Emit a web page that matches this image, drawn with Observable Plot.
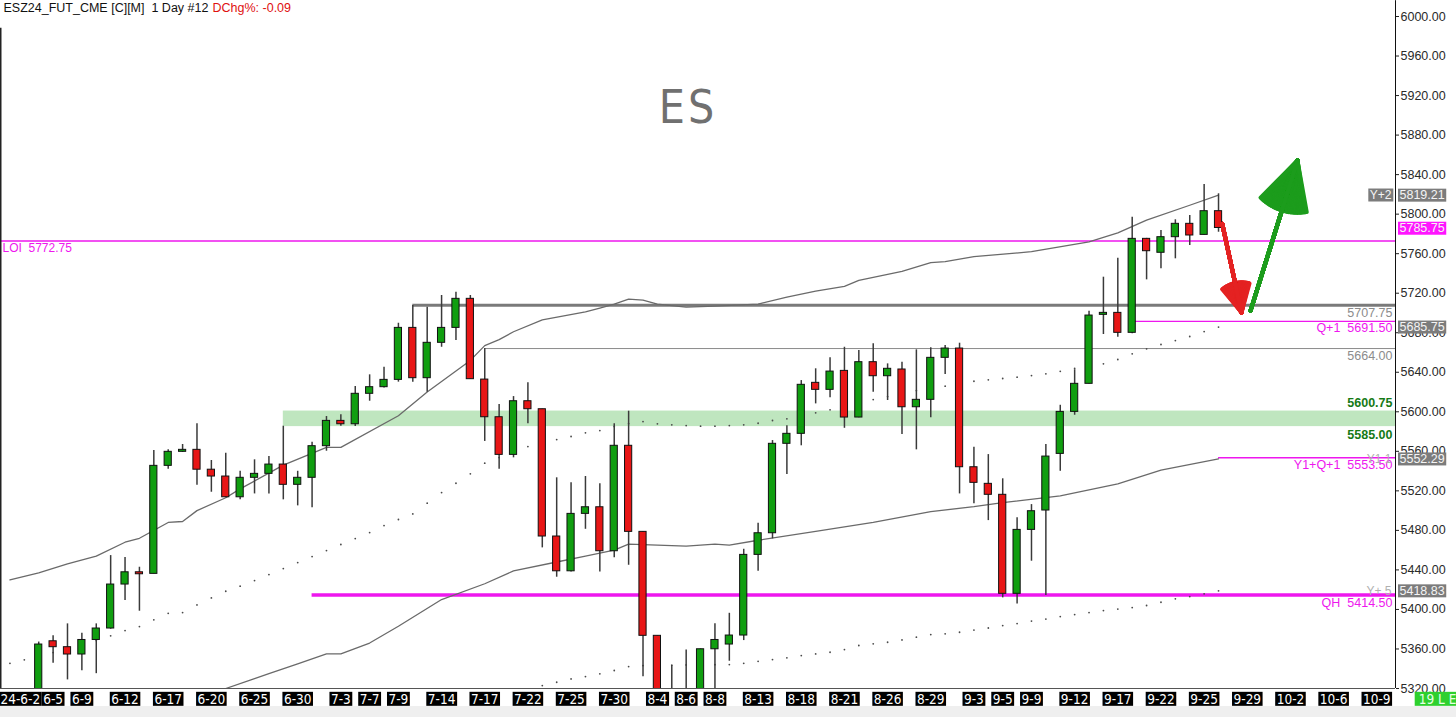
<!DOCTYPE html>
<html><head><meta charset="utf-8">
<script src="https://cdn.jsdelivr.net/npm/d3@7"></script>
<script src="https://cdn.jsdelivr.net/npm/@observablehq/plot@0.6"></script>
<style>
html,body{margin:0;padding:0;background:#fff;width:1456px;height:717px;overflow:hidden}
#chart svg{display:block}
#scroll{height:11px;background:#efefef;width:1456px}
</style></head><body>
<div id="chart"></div><div id="scroll"></div>
<script>
// ---- candles (bar index starts at 1) ----
const firstBar = 1;
const opens = [5300,5367.8,5361.8,5354.4,5369.1,5380.7,5425.2,5437.6,5436,5545.3,
5559.5,5561.5,5541.4,5534.5,5513.5,5533.2,5537.2,5546.6,5526.1,5533.2,
5565.2,5590.8,5587.4,5618.2,5624.9,5632.3,5684.9,5634,5669.8,5684.9,
5714.3,5632.6,5594.5,5556.4,5610.7,5602.6,5473.8,5438.6,5496.7,5503.4,
5458.9,5565.6,5478.5,5373.3,5245,5290,5255,5359.7,5364.5,5373.6,
5455.2,5477.1,5567.6,5577.7,5629.3,5622.2,5641.4,5594.2,5650.2,5636,
5642.8,5604.6,5612.1,5654.6,5664,5543.9,5527.1,5516,5415.8,5480.5,
5500.1,5557.4,5599.9,5628.3,5698.1,5700.1,5679.9,5775,5760.9,5776.7,
5790.2,5779,5803];
const highs = [5367,5373.3,5385.4,5375.9,5385.4,5454.5,5452.5,5442.7,5560.8,5561.5,
5566.9,5587.8,5550.7,5558.1,5539.8,5551.4,5554.7,5585.4,5539.8,5569.2,
5595.2,5596.9,5625.6,5637.4,5645.1,5689.6,5707.5,5705.8,5717.7,5721,
5717.7,5664,5607.3,5615.4,5629.3,5602.6,5533.2,5528.1,5534.5,5527.1,
5587.8,5600.6,5478.5,5373.3,5343.2,5359,5360,5385.6,5396.1,5460.9,
5487.2,5570.9,5585.8,5631.6,5643.5,5654.6,5665.3,5662,5668.8,5648.5,
5650.2,5662.7,5664.9,5667,5669.4,5564.1,5556.7,5532.2,5492.7,5506.1,
5566.9,5606.6,5642.5,5701.8,5736.2,5755.4,5796.9,5775.5,5783.4,5794.3,
5798.6,5830,5820.6];
const lows = [5295,5345.5,5328.7,5338,5335,5380,5409,5398.2,5436,5541.9,
5559,5525.7,5518.6,5513,5510.9,5516.9,5516.9,5510.9,5504.8,5502.8,
5560.1,5585.4,5585,5610.7,5624,5630,5629.9,5619.8,5665.3,5672.1,
5633,5570,5541.9,5553.4,5587.8,5462.3,5432.6,5438,5481.1,5438,
5452.2,5444.7,5332,5200,5225,5240,5250,5316,5347.6,5368.5,
5438.6,5471.4,5536.5,5565.6,5608,5614.1,5583.3,5594,5619.8,5611.4,
5577,5561.5,5593.9,5637.7,5516.9,5506.9,5489.9,5411.7,5405.6,5448.8,
5414,5539.8,5596.5,5628,5678.2,5675.5,5679,5733.5,5744.7,5754.8,
5768.3,5779,5781.7];
const closes = [5364.5,5361.8,5354.4,5369.1,5380.7,5425.2,5437.6,5435.6,5545.3,5559.5,
5561.5,5541.4,5534.5,5513.5,5533.2,5537.2,5546.6,5526.1,5533.2,5565.2,
5590.8,5587.4,5618.2,5624.9,5632.3,5684.9,5634,5669.8,5684.9,5714.3,
5633,5594.5,5556.4,5610.7,5602.6,5473.8,5438.6,5496.7,5503.4,5458.9,
5565.6,5478.5,5373.3,5240,5290,5255,5359.7,5369.1,5373.6,5455.2,
5477.1,5567.6,5577.7,5627.3,5622.2,5640.7,5594.2,5650.2,5636,5643.5,
5604.6,5612.1,5654.6,5664,5543.9,5528.1,5516,5415.8,5480.5,5499.4,
5554.7,5599.9,5628.3,5697.4,5700.1,5679.9,5775,5762.5,5776.7,5790.2,
5778.4,5803,5786];

// ---- moving averages (bar index, value) ----
const ma1Idx = [-1,1,3,5,7,8,10,11,12,14,15,18,21,22,26,28,31,32,33,34,36,39,40,41,42,43,44,46,48,51,53,55,57,58,61,63,64,66,70,74,76,78,81,83];
const ma1Val = [5430,5437,5446,5454,5468,5472,5488,5489,5500,5513,5522,5546,5564,5564,5596,5620,5652,5667,5673,5681,5693,5701,5705,5709,5714,5713,5709,5706,5707,5709,5716,5722,5727,5733,5742,5751,5752,5757,5762,5772,5781,5794,5809,5819.21];
const ma2Idx = [12,14,16,17,19,21,22,24,26,29,32,34,37,39,41,42,44,46,48,49,51,55,59,63,66,68,72,76,79,83];
const ma2Val = [5310,5320,5330,5335,5345,5355,5355,5366,5383,5410,5426,5439,5448,5454,5460,5466,5465,5464,5466,5465,5470,5479,5488,5499,5504,5508,5515,5527,5541,5552.29];

// ---- dotted studies ----
const dotAStart = -1;
const dotAVals = [5345.5,5349.0,5352.3,5356.4,5360.4,5364.5,5368.5,5373.3,5378.6,5382.7,
5389.5,5396.1,5396.8,5404.6,5411.7,5418.4,5423.5,5429.2,5435.3,5441.4,
5447.4,5453.5,5459.6,5465.7,5471.7,5477.8,5484.9,5491.0,5496.7,5507.5,
5518.3,5527.7,5537.2,5548.0,5553.7,5559.8,5564.8,5568.9,5571.9,5575.0,
5578.7,5581.0,5585.1,5588.1,5590.1,5587.8,5586.8,5586.1,5585.4,5585.4,
5586.1,5586.8,5588.4,5591.2,5592.9,5596.2,5599.0,5602.0,5605.4,5608.9,
5612.4,5615.4,5618.5,5621.5,5623.5,5625.9,5628.6,5630.9,5632.4,5633.7,
5635.0,5636.7,5638.4,5641.0,5643.8,5645.8,5648.5,5652.9,5658.7,5663.7,
5668.1,5672.1,5676.2,5681.2,5685.75];
const dotBStart = 36;
const dotBVals = [5323,5326.3,5329.7,5332.1,5334.8,5338.2,5342.2,5343.2,5343.5,5343.7,
5343.9,5344.0,5344.1,5344.2,5345.5,5347.5,5349.3,5351.0,5353.3,5355.0,
5356.7,5359.4,5363.5,5365.2,5366.8,5369.2,5371.9,5374.6,5375.3,5376.9,
5379.1,5381.2,5383.7,5385.7,5388.2,5390.3,5392.8,5394.8,5396.8,5398.9,
5400.4,5401.9,5404.0,5407.3,5410.7,5413.0,5415.8,5418.83];

// ---- levels ----
const levelVals  = [5772.75, 5707.75, 5691.50, 5664.00, 5600.75, 5585.00, 5553.50, 5414.50];
const levelStart = [-1.656, 27, 77, 32, 18, 18, 83, 20];
const levelNames = ["LOI", "", "Q+1", "", "", "", "Y1+Q+1", "QH"];

// ---- right axis ----
const yTicks = d3.range(5320, 6001, 40);
const badgeVals = [5819.21, 5785.75, 5685.75, 5552.29, 5418.83];
const badgeTags = ["Y+2", "", "", "Y1 1", "Y+ 5"];

// ---- date axis ----
const dateIdx = [0,2,4,7,10,13,16,19,22,24,26,29,32,35,38,41,44,46,48,51,54,57,60,63,66,68,70,73,76,79,82,85,88,91,94];
const dateLabels = ["24-6-2","6-5","6-9","6-12","6-17","6-20","6-25","6-30","7-3","7-7","7-9","7-14","7-17","7-22","7-25","7-30","8-4","8-6","8-8","8-13","8-18","8-21","8-26","8-29","9-3","9-5","9-9","9-12","9-17","9-22","9-25","9-29","10-2","10-6","10-9"];

// ---- annotations (arrows: bar index / price) ----
const arrowFrom = [[83.26, 5790.2], [85.23, 5702.5]];
const arrowTo   = [[84.6, 5700.4], [88.49, 5854.3]];

const titleMain = "ESZ24_FUT_CME [C][M]  1 Day #12";
const titleChg = "DChg%: -0.09";
const symbolName = "ES";
const statusText = "19 L E";

// ================= build =================
const xMin = -1.656, xMax = 95.30, yMin = 5320, yMax = 6000;
const MAG = "#ee17ee", GRN = "#109e10", RED = "#e81616", GRAYLINE = "#7a7a7a";
const NARROW = "'Liberation Sans Narrow','DejaVu Sans Condensed','Liberation Sans',sans-serif";

const bars = opens.map((o, k) => ({i: firstBar + k, o, h: highs[k], l: lows[k], c: closes[k]}));
const ma1 = ma1Idx.map((i, k) => ({i, v: ma1Val[k]}));
const ma2 = ma2Idx.map((i, k) => ({i, v: ma2Val[k]}));
const dotsA = dotAVals.map((v, k) => ({i: dotAStart + k, v}));
const dotsB = dotBVals.map((v, k) => ({i: dotBStart + k, v}));
const lv = levelVals.map((v, k) => ({v, s: levelStart[k], e: xMax, name: levelNames[k]}));
const dates = dateIdx.map((i, k) => ({i, t: dateLabels[k]}));
const badges = badgeVals.map((v, k) => ({v, tag: badgeTags[k]}));
const arrows = arrowFrom.map((f, k) => ({x1: f[0], y1: f[1], x2: arrowTo[k][0], y2: arrowTo[k][1]}));
const fmt = v => v.toFixed(2);
const sp = "\u00a0\u00a0";

function levelLabel(k, opts) {
  const d = lv[k];
  const txt = d.name ? d.name + sp + fmt(d.v) : fmt(d.v);
  return Plot.text([d], {y: "v", text: () => txt, frameAnchor: "right", lineAnchor: "middle", dx: -3, textAnchor: "end", fontSize: 12.5, ...opts});
}

const arrowLayers = [];
const headAngles = d3.range(4, 56, 3);
[[0, "#e42222"], [1, "#1c9c1c"]].forEach(([k, col]) => {
  headAngles.forEach(a => {
    arrowLayers.push(Plot.arrow([arrows[k]], {x1: "x1", y1: "y1", x2: "x2", y2: "y2", stroke: col, strokeWidth: 4, headLength: 28, headAngle: a}));
  });
});

const plot = Plot.plot({
  width: 1456, height: 706,
  marginTop: 16, marginBottom: 18, marginLeft: 0, marginRight: 61,
  x: {domain: [xMin, xMax], axis: null},
  y: {domain: [yMin, yMax], axis: null},
  color: {type: "identity"},
  style: {fontFamily: "'Liberation Sans', Arial, sans-serif", fontSize: "12px", background: "#fff", overflow: "visible"},
  marks: [
    // green zone
    Plot.rect([{s: lv[4].s, e: xMax, a: lv[5].v, b: lv[4].v}], {x1: "s", x2: "e", y1: "a", y2: "b", fill: "#bfe6bf"}),
    // level lines
    Plot.ruleY([lv[0]], {y: "v", x1: "s", x2: "e", stroke: MAG, strokeWidth: 1.5}),
    Plot.ruleY([lv[1]], {y: "v", x1: "s", x2: "e", stroke: GRAYLINE, strokeWidth: 3}),
    Plot.ruleY([lv[2]], {y: "v", x1: "s", x2: "e", stroke: MAG, strokeWidth: 1.4}),
    Plot.ruleY([lv[3]], {y: "v", x1: "s", x2: "e", stroke: "#8a8a8a", strokeWidth: 1}),
    Plot.ruleY([lv[6]], {y: "v", x1: "s", x2: "e", stroke: MAG, strokeWidth: 1.4}),
    Plot.ruleY([lv[7]], {y: "v", x1: "s", x2: "e", stroke: MAG, strokeWidth: 3.5}),
    // moving averages
    Plot.line(ma1, {x: "i", y: "v", stroke: "#6a6a6a", strokeWidth: 1.3, clip: true}),
    Plot.line(ma2, {x: "i", y: "v", stroke: "#6a6a6a", strokeWidth: 1.3, clip: true}),
    // dotted studies
    Plot.dot(dotsA, {x: "i", y: "v", r: 0.9, fill: "#4a4a4a", clip: true}),
    Plot.dot(dotsB, {x: "i", y: "v", r: 0.9, fill: "#4a4a4a", clip: true}),
    // candles
    Plot.ruleX(bars, {x: "i", y1: "l", y2: "h", stroke: "#3a3a3a", strokeWidth: 1.5, clip: true}),
    Plot.rect(bars, {x1: d => d.i - 0.5, x2: d => d.i + 0.5, y1: "o", y2: "c", insetLeft: 3.6, insetRight: 3.6,
      fill: d => d.c >= d.o ? GRN : RED, stroke: "#111", strokeWidth: 1, clip: true}),
    // level labels
    Plot.text([lv[0]], {x: "s", y: "v", text: d => d.name + sp + fmt(d.v), dx: 2, dy: 7, textAnchor: "start", fill: MAG, fontSize: 12}),
    levelLabel(1, {dy: 8, fill: "#8c8c8c"}),
    levelLabel(2, {dy: 7, fill: MAG}),
    levelLabel(3, {dy: 7, fill: "#8c8c8c"}),
    levelLabel(4, {dy: -8, fill: "#167a16", fontWeight: "bold"}),
    levelLabel(5, {dy: 8, fill: "#167a16", fontWeight: "bold"}),
    levelLabel(6, {dy: 7, fill: MAG}),
    levelLabel(7, {dy: 7.5, fill: MAG}),
    // frame lines
    Plot.ruleY([yMin], {stroke: "#555", strokeWidth: 1}),
    Plot.ruleX([xMin], {y1: yMin, y2: 5988, stroke: "#222", strokeWidth: 2}),
    Plot.ruleX([xMax], {y1: yMin, y2: 6016, stroke: "#111", strokeWidth: 1}),
    // right axis
    Plot.axisY(yTicks, {anchor: "right", tickSize: 3, tickPadding: 2, tickFormat: fmt, fontSize: 12.5, fill: "#2a2a2a", stroke: "#222"}),
    // faint study tags
    Plot.text([badges[3], badges[4]], {y: "v", text: "tag", frameAnchor: "right", lineAnchor: "middle", dx: -4, textAnchor: "end", fill: "#b0b0b0", fontSize: 12}),
    // price badges
    Plot.text(badges, {y: "v", text: d => fmt(d.v), frameAnchor: "right", lineAnchor: "middle", dx: 4, textAnchor: "start", fill: "#f4f4f4", fontSize: 12.5}),
    Plot.text([badges[0]], {y: "v", text: "tag", frameAnchor: "right", lineAnchor: "middle", dx: -4, textAnchor: "end", fill: "#f4f4f4", fontSize: 12}),
    // date axis (the first label is pinned to the left edge as in the source platform)
    Plot.text(dates.slice(1), {x: "i", text: "t", frameAnchor: "bottom", lineAnchor: "middle", dy: 11, fill: "#fff", fontSize: 13.5, fontFamily: NARROW}),
    Plot.text([dates[0]], {text: "t", frameAnchor: "bottom-left", lineAnchor: "middle", textAnchor: "start", dx: 0, dy: 11, fill: "#fff", fontSize: 13.5, fontFamily: NARROW}),
    Plot.text([statusText], {frameAnchor: "bottom-right", lineAnchor: "middle", dx: 42, dy: 11, textAnchor: "middle", fill: "#e6ffe6", fontSize: 13.5, fontFamily: NARROW}),
    // arrows
    ...arrowLayers,
    // titles
    Plot.text([symbolName], {frameAnchor: "top", lineAnchor: "middle", dx: -10, dy: 92, fill: "#707070", fontSize: 46, fontFamily: NARROW}),
    Plot.text([titleMain], {frameAnchor: "top-left", lineAnchor: "middle", dx: 3, dy: -9, textAnchor: "start", fill: "#111", fontSize: 12.5}),
    Plot.text([titleChg], {frameAnchor: "top-left", lineAnchor: "middle", dx: 212, dy: -9, textAnchor: "start", fill: "#e01010", fontSize: 12.5})
  ]
});

document.getElementById("chart").appendChild(plot);

// backgrounds behind badge-style texts, sized from the rendered text
const dateSet = new Set(dateLabels);
const priceFill = new Map(badgeVals.map((v, k) => [fmt(v), k === 1 ? "#ff14ff" : "#7c7c7c"]));
function boxFor(t, fill, padX, padY) {
  const b = t.getBBox();
  const r = document.createElementNS("http://www.w3.org/2000/svg", "rect");
  r.setAttribute("x", b.x - padX);
  r.setAttribute("y", b.y - padY);
  r.setAttribute("width", b.width + 2 * padX);
  r.setAttribute("height", b.height + 2 * padY);
  r.setAttribute("fill", fill);
  const tr = t.getAttribute("transform");
  if (tr) r.setAttribute("transform", tr);
  t.parentNode.insertBefore(r, t);
}
Array.from(plot.querySelectorAll("text")).forEach(t => {
  const s = t.textContent;
  if (dateSet.has(s)) boxFor(t, "#000", 1.5, -1);
  else if (priceFill.has(s)) boxFor(t, priceFill.get(s), 1.5, -0.5);
  else if (s === badgeTags[0]) boxFor(t, "#7c7c7c", 1.5, -0.5);
  else if (s === statusText) boxFor(t, "#2ed02e", 4, -1);
  else if (s === symbolName) t.setAttribute("letter-spacing", "3");
});
</script>
</body></html>
